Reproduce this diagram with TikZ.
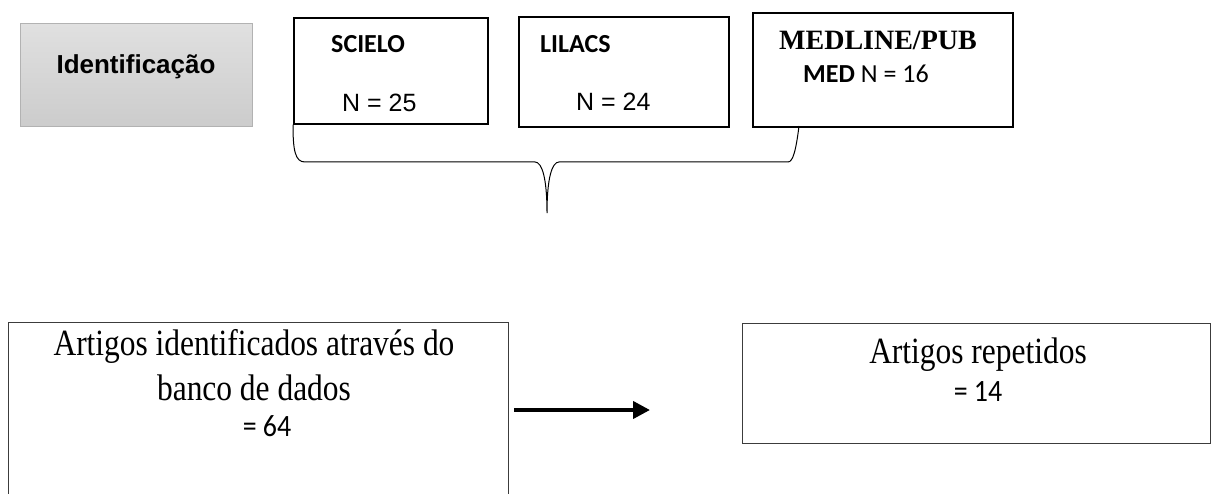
\documentclass[tikz,border=0pt]{standalone}
\usepackage{fontspec}
\setmainfont{Liberation Serif}
\newfontfamily\arialf{Liberation Sans}
\newfontfamily\calf{Carlito}
\newfontfamily\condserif[FakeStretch=0.85]{Liberation Serif}
\newfontfamily\condcal[FakeStretch=0.9]{Carlito}
\usetikzlibrary{arrows.meta}
\definecolor{idborder}{RGB}{178,178,178}
\definecolor{idtop}{RGB}{224,224,224}
\definecolor{idbot}{RGB}{204,204,204}
\definecolor{lowline}{RGB}{60,60,60}
\tikzset{
  idbox/.style={draw=idborder, line width=1.2pt, top color=idtop, bottom color=idbot, anchor=north west, inner sep=0pt},
  topbox/.style={draw=black, line width=1.6pt, anchor=north west, inner sep=0pt},
  lowbox/.style={draw=lowline, line width=1.2pt, anchor=north west, inner sep=0pt},
  txt/.style={inner sep=0pt, anchor=base west},
  ctxt/.style={inner sep=0pt, anchor=base},
  bracestyle/.style={draw=black, line width=1pt},
  arrowstyle/.style={draw=black, line width=4pt, -{Triangle[length=17pt,width=17pt]}}
}
\begin{document}
\begin{tikzpicture}[x=1pt,y=-1pt]
\useasboundingbox (0,0) rectangle (1212,494);
% identification box
\node[idbox, minimum width=232pt, minimum height=103pt] (ident) at (20,23) {};
\node[ctxt, font=\arialf\bfseries\fontsize{26}{30}\selectfont] (identt) at (136,74) {Identificação};
% database boxes
\node[topbox, minimum width=194pt, minimum height=106pt] (scielo) at (293,17) {};
\node[txt, font=\calf\bfseries\fontsize{26}{30}\selectfont] (scielot) at (331,53) {SCIELO};
\node[txt, font=\arialf\fontsize{25}{30}\selectfont] (scielon) at (342,112) {N = 25};
\node[topbox, minimum width=210pt, minimum height=110pt] (lilacs) at (518,16) {};
\node[txt, font=\calf\bfseries\fontsize{26}{30}\selectfont] (lilacst) at (540,53) {LILACS};
\node[txt, font=\arialf\fontsize{25}{30}\selectfont] (lilacsn) at (576,111) {N = 24};
\node[topbox, minimum width=260pt, minimum height=114pt] (medline) at (752,12) {};
\node[txt, font=\bfseries\fontsize{28}{32}\selectfont] (medlinet) at (779,50) {MEDLINE/PUB};
\node[txt, font=\calf\fontsize{26}{30}\selectfont] (medlinen) at (803,83) {\textbf{MED} N = 16};
% brace
\coordinate (bR) at (799,126);
\coordinate (tip) at (547,213);
\draw[bracestyle] (scielo.south west) .. controls (293,150) and (295,162) .. (305,162)
  -- (535,162) .. controls (542,162) and (547,178) .. (tip)
  .. controls (547,178) and (552,162) .. (559,162)
  -- (788,162) .. controls (793,162) and (796,150) .. (bR);
% lower boxes
\node[lowbox, minimum width=500pt, minimum height=185pt] (found) at (8,322) {};
\node[ctxt, font=\condserif\fontsize{37}{40}\selectfont] (foundt1) at (254,355) {Artigos identificados através do};
\node[ctxt, font=\condserif\fontsize{37}{40}\selectfont] (foundt2) at (254,400) {banco de dados};
\node[ctxt, font=\condcal\fontsize{31}{34}\selectfont] (foundt3) at (267,436) {= 64};
\node[lowbox, minimum width=468pt, minimum height=120pt] (rep) at (742,323) {};
\node[ctxt, font=\condserif\fontsize{37}{40}\selectfont] (rept1) at (978,363) {Artigos repetidos};
\node[ctxt, font=\condcal\fontsize{31}{34}\selectfont] (rept2) at (978,401) {= 14};
% arrow
\coordinate (a1) at (514,410);
\coordinate (a2) at (650,410);
\draw[arrowstyle] (a1) -- (a2);
\end{tikzpicture}
\end{document}
